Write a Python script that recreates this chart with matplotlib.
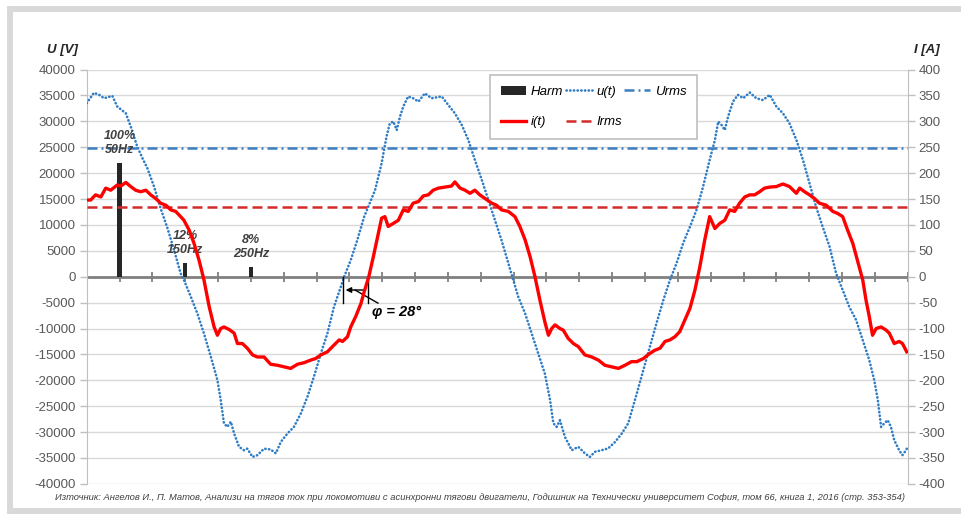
import matplotlib
matplotlib.use('Agg')
import matplotlib.pyplot as plt
from matplotlib.patches import Rectangle, Patch
from matplotlib.lines import Line2D

plt.rcParams['font.family'] = ['Liberation Sans', 'DejaVu Sans']
plt.rcParams['axes.unicode_minus'] = False

# ---------------- data (time in axis units, 1 unit = 2 ms) ----------------
u_t = [0.00, 0.22, 0.38, 0.53, 0.78, 0.93, 1.19, 1.34, 1.54, 1.70, 1.85, 2.05, 2.25, 2.46, 2.66,
       2.86, 2.96, 3.17, 3.37, 3.57, 3.78, 3.98, 4.08, 4.18, 4.28, 4.39, 4.49, 4.64, 4.79, 4.89,
       5.05, 5.20, 5.40, 5.60, 5.76, 5.91, 6.11, 6.31, 6.52, 6.72, 6.92, 7.13, 7.33, 7.53, 7.74,
       7.84, 8.04, 8.24, 8.45, 8.78, 8.98, 9.13, 9.23, 9.34, 9.44, 9.54, 9.64, 9.79, 9.94, 10.10,
       10.30, 10.50, 10.81, 11.01, 11.21, 11.42, 11.62, 11.82, 12.03, 12.23, 12.43, 12.63, 12.84,
       12.99, 13.14, 13.35, 13.55, 13.75, 13.95, 14.11, 14.21, 14.31, 14.41, 14.56, 14.77, 14.97,
       15.17, 15.32, 15.48, 15.68, 15.88, 16.09, 16.29, 16.49, 16.75, 16.95, 17.15, 17.35, 17.56,
       17.76, 17.96, 18.16, 18.37, 18.57, 18.77, 18.97, 19.13, 19.23, 19.33, 19.43, 19.53, 19.68,
       19.83, 19.99, 20.19, 20.39, 20.59, 20.80, 21.00, 21.20, 21.40, 21.61, 21.81, 22.01, 22.21,
       22.41, 22.62, 22.82, 23.02, 23.22, 23.43, 23.63, 23.83, 23.98, 24.09, 24.19, 24.29, 24.39,
       24.49, 24.59, 24.74, 24.84, 24.95, 25.00]
u_v = [33500, 35500, 35100, 34450, 34900, 32850, 31550, 29000, 25100, 22850, 20900, 17400, 13200, 9350, 5150,
       640, -640, -3860, -7100, -10950, -15450, -19950, -23800, -28300, -29000, -28000, -30300, -32850, -33500, -33200,
       -34800, -34450, -33200, -33350, -34100, -31900, -30300, -29000, -26400, -23200, -19300, -14800, -10950, -5800, -1930,
       0, 3200, 7080, 11600, 16700, 21900, 27050, 29600, 29950, 28300, 30900, 32850, 34800, 34450, 33800,
       35400, 34450, 34800, 33150, 31550, 29300, 26400, 22550, 18700, 14800, 10950, 7080, 2580,
       -640, -3860, -7100, -10950, -14800, -18700, -23800, -28300, -29000, -27700, -30900, -33500, -32850,
       -34100, -34800, -33800, -33500, -33150, -31900, -30300, -28300, -22550, -18000, -13500, -9000, -4500,
       -650, 2580, 6440, 9650, 12900, 17400, 22550, 26400, 29950, 29300, 28300, 30900, 33800,
       35100, 34450, 35550, 34450, 34100, 35100, 32850, 31550, 29600, 26400, 22550, 18000, 13500,
       9650, 5800, 640, -2580, -5800, -8370, -12230, -16100, -19950, -23800, -29000, -28300, -27700,
       -29000, -31550, -33500, -34450, -33500, -32850]

i_t = [0.00, 0.12, 0.27, 0.43, 0.58, 0.73, 0.93, 1.04, 1.19, 1.34, 1.49, 1.64, 1.80, 1.95, 2.10,
       2.25, 2.41, 2.56, 2.71, 2.86, 2.96, 3.12, 3.27, 3.42, 3.57, 3.73, 3.88, 3.98, 4.08, 4.18,
       4.34, 4.49, 4.59, 4.74, 4.89, 5.05, 5.20, 5.40, 5.60, 5.81, 6.01, 6.21, 6.42, 6.62, 6.82,
       6.97, 7.13, 7.33, 7.53, 7.69, 7.79, 7.94, 8.04, 8.19, 8.35, 8.45, 8.59, 8.73, 8.88, 8.98,
       9.08, 9.18, 9.34, 9.49, 9.64, 9.79, 9.94, 10.10, 10.25, 10.40, 10.55, 10.71, 10.91, 11.11,
       11.21, 11.37, 11.52, 11.67, 11.82, 11.97, 12.13, 12.33, 12.48, 12.63, 12.84, 13.04, 13.19,
       13.35, 13.50, 13.65, 13.80, 13.95, 14.06, 14.16, 14.26, 14.41, 14.51, 14.66, 14.82, 14.97,
       15.17, 15.38, 15.58, 15.78, 15.98, 16.19, 16.39, 16.59, 16.75, 16.95, 17.15, 17.30, 17.46,
       17.61, 17.76, 17.91, 18.06, 18.21, 18.37, 18.52, 18.67, 18.82, 18.97, 19.13, 19.28, 19.43,
       19.58, 19.73, 19.88, 20.04, 20.19, 20.34, 20.49, 20.64, 20.80, 21.00, 21.20, 21.40, 21.61,
       21.71, 21.86, 22.01, 22.16, 22.31, 22.52, 22.72, 22.87, 23.02, 23.17, 23.33, 23.48, 23.63,
       23.73, 23.83, 23.93, 24.04, 24.19, 24.34, 24.44, 24.59, 24.74, 24.84, 24.97]
i_a = [148, 148, 158, 154, 171, 167, 177, 175, 182, 174, 167, 164, 167, 158, 151,
       142, 138, 129, 126, 116, 109, 90, 64, 32, -6, -58, -97, -113, -100, -97,
       -102, -109, -129, -129, -138, -151, -155, -155, -169, -171, -174, -177, -169, -166, -161,
       -158, -151, -145, -132, -122, -125, -116, -97, -77, -52, -29, 0, 39, 84, 113,
       116, 97, 103, 109, 129, 126, 142, 145, 156, 158, 167, 171, 173, 175,
       183, 171, 167, 161, 167, 158, 151, 142, 138, 129, 126, 116, 97,
       71, 39, 0, -45, -87, -113, -100, -93, -100, -103, -119, -129, -135,
       -151, -155, -161, -171, -174, -177, -171, -164, -164, -158, -148, -142, -138,
       -125, -122, -116, -106, -84, -61, -26, 19, 71, 116, 93, 103, 109,
       129, 126, 142, 154, 158, 158, 164, 171, 173, 174, 179, 174, 161,
       171, 164, 158, 151, 142, 138, 126, 122, 116, 90, 64, 29, -6,
       -45, -77, -113, -100, -97, -103, -109, -129, -125, -129, -145]

harm_pos = [1, 3, 5]
harm_val = [22000, 2700, 1900]
harm_labels = ['100%\n50Hz', '12%\n150Hz', '8%\n250Hz']

urms = 24800   # V
irms = 135     # A

phi_u_cross = 7.80
phi_i_cross = 8.57
phi_label = 'φ = 28°'

u_ticks = list(range(-40000, 40001, 5000))
i_ticks = list(range(-400, 401, 50))
n_ticks = 25

source = ('Източник: Ангелов И., П. Матов, Анализи на тягов ток при локомотиви с асинхронни тягови '
          'двигатели, Годишник на Технически университет София, том 66, книга 1, 2016 (стр. 353-354)')

# ---------------- figure ----------------
W, H = 962, 514
fig = plt.figure(figsize=(W / 100, H / 100), dpi=100)
fig.patch.set_facecolor('white')

# outer light-grey frame
frame_c = '#D9D9D9'
fig.add_artist(Rectangle((7 / W, 1 - 12 / H), 1, 6 / H, transform=fig.transFigure, color=frame_c, lw=0))
fig.add_artist(Rectangle((7 / W, 0), 6 / W, 1 - 6 / H, transform=fig.transFigure, color=frame_c, lw=0))
fig.add_artist(Rectangle((7 / W, 0), 1, 6 / H, transform=fig.transFigure, color=frame_c, lw=0))

left, right, top, bottom = 86.7, 907.7, 69.5, 483.9
ax = fig.add_axes([left / W, (H - bottom) / H, (right - left) / W, (bottom - top) / H])
ax.set_xlim(0, n_ticks)
ax.set_ylim(-40000, 40000)
ax.set_yticks(u_ticks)
ax.set_xticks([])
ax.grid(axis='y', color='#D9D9D9', lw=1)
ax.set_axisbelow(True)
for s in ['top', 'bottom', 'right']:
    ax.spines[s].set_visible(False)
ax.spines['left'].set_color('#BFBFBF')
ax.tick_params(axis='y', direction='out', length=5, width=1, color='#BFBFBF',
               labelsize=9.5, labelcolor='#595959', pad=3)
ax.patch.set_alpha(0)

ax2 = ax.twinx()
ax2.set_ylim(-400, 400)
ax2.set_yticks(i_ticks)
for s in ['top', 'bottom', 'left']:
    ax2.spines[s].set_visible(False)
ax2.spines['right'].set_color('#BFBFBF')
ax2.tick_params(axis='y', direction='out', length=5, width=1, color='#BFBFBF',
                labelsize=9.5, labelcolor='#595959', pad=3)

# zero axis line with ticks
ax.axhline(0, color='#808080', lw=2, zorder=2)
ax.plot(list(range(n_ticks + 1)), [0] * (n_ticks + 1), ls='none', marker='|', ms=7, mew=1.3,
        color='#808080', zorder=2)

# harmonic bars
ax.bar(harm_pos, harm_val, width=0.13, color='#262626', zorder=3)
for p, v, lab in zip(harm_pos, harm_val, harm_labels):
    ax.text(p, v + 1300, lab, ha='center', va='bottom', fontsize=9, fontweight='bold',
            fontstyle='italic', color='#404040', linespacing=1.2, zorder=6)

# voltage
blue = '#2E7CC6'
ax.plot(u_t, u_v, color=blue, lw=1.9, ls=(0, (0.1, 1.3)), dash_capstyle='round', zorder=4)
ax.axhline(urms, color='#3D7DC0', lw=1.8, ls=(0, (4, 1.6, 0.8, 1.6)), zorder=4)

# current
red = '#FF0000'
ax2.plot(i_t, i_a, color=red, lw=2.4, zorder=5)
ax2.axhline(irms, color='#D42A2A', lw=1.8, ls=(0, (4, 2)), zorder=4)

# phase annotation
y_lo = -5100
y_ar = -2570
ax.plot([phi_u_cross, phi_u_cross], [0, y_lo], color='black', lw=1, zorder=6)
ax.plot([phi_i_cross, phi_i_cross], [0, y_lo], color='black', lw=1, zorder=6)
ax.annotate('', xy=(phi_u_cross, y_ar), xytext=(phi_i_cross, y_ar),
            arrowprops=dict(arrowstyle='-|>', color='black', lw=1, mutation_scale=8), zorder=6)
ax.plot([phi_u_cross + 0.37, phi_i_cross + 0.30], [y_ar, y_lo], color='black', lw=1, zorder=6)
ax.text(phi_i_cross + 0.87, -6800, phi_label, ha='center', va='center', fontsize=10.5,
        fontweight='bold', fontstyle='italic', color='black', zorder=6)

# legend
handles = [Patch(facecolor='#262626', edgecolor='none'),
           Line2D([], [], color=red, lw=2.4),
           Line2D([], [], color=blue, lw=1.9, ls=(0, (0.1, 1.3)), dash_capstyle='round'),
           Line2D([], [], color='#D42A2A', lw=1.8, ls=(0, (4, 2))),
           Line2D([], [], color='#3D7DC0', lw=1.8, ls=(0, (4, 1.6, 0.8, 1.6)))]
labels = ['Harm', 'i(t)', 'u(t)', 'Irms', 'Urms']
leg = ax2.legend(handles, labels, ncol=3, loc='upper left',
                 bbox_to_anchor=(490 / W, (H - 139) / H, 207 / W, 64 / H), bbox_transform=fig.transFigure,
                 mode='expand', borderaxespad=0, fancybox=False, framealpha=1,
                 edgecolor='#BFBFBF', prop=dict(style='italic', size=9.5),
                 handlelength=1.95, handletextpad=0.35, columnspacing=0.6, labelspacing=1.4,
                 borderpad=0.8)
leg.get_frame().set_linewidth(1.2)
leg.set_zorder(10)

# axis titles
fig.text(62 / W, 1 - 50 / H, 'U [V]', ha='center', va='center', fontsize=9.5, fontweight='bold',
         fontstyle='italic', color='#262626')
fig.text(927 / W, 1 - 50 / H, 'I [A]', ha='center', va='center', fontsize=9.5, fontweight='bold',
         fontstyle='italic', color='#262626')

# source
fig.text(480 / W, 1 - 497 / H, source, ha='center', va='center', fontsize=6.75, fontstyle='italic',
         color='#404040')

fig.savefig('out.png', dpi=100)
